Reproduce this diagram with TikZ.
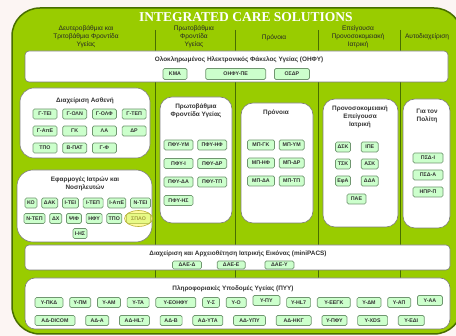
\documentclass[tikz,border=0pt]{standalone}
\usepackage{fontspec}
\setmainfont{Liberation Sans}
\newfontfamily\bannerfont{Liberation Serif}
\usetikzlibrary{positioning}

\definecolor{pagebg}{RGB}{252,245,243}
\definecolor{lime}{RGB}{153,204,0}
\definecolor{limeedge}{RGB}{72,110,0}
\definecolor{appfill}{RGB}{204,255,204}
\definecolor{appedge}{RGB}{112,150,112}
\definecolor{paneledge}{RGB}{125,125,125}

\tikzset{
    x=1pt, y=-1pt, % pixel units, y runs downwards
    panel/.style={draw=paneledge, fill=white, line width=0.6pt, rounded corners=#1}, % white group boxes
    panel/.default=12pt,
    heading/.style={font=\fontsize{6.6}{7.8}\selectfont, align=center, text=black!85}, % column heads
    paneltitle/.style={font=\fontsize{6.4}{7.8}\selectfont\bfseries, align=center, text=black!80},
    app/.style={draw=appedge, fill=appfill, line width=0.7pt, rounded corners=1.5pt,
        font=\fontsize{5.3}{5.5}\selectfont\bfseries, text=black!80, inner sep=0pt,
        minimum height=10pt, minimum width=#1}, % one application
    app/.default=24pt,
    colsep/.style={draw=limeedge, line width=0.7pt},
    hilite/.style={draw=yellow!70!black, fill=yellow!70, fill opacity=0.55, line width=0.6pt},
}

\begin{document}
\begin{tikzpicture}
\useasboundingbox (0,0) rectangle (456,336);
\fill[pagebg] (0,0) rectangle (456,336);
\draw[fill=lime, draw=limeedge, line width=1.5pt, rounded corners=28pt] (12,8) rectangle (462,334);

\node[font=\bannerfont\bfseries\fontsize{13.5}{14}\selectfont, text=white] (banner) at (246,17) {INTEGRATED CARE SOLUTIONS};

% column heads
\node[heading] (h1) at (86,37) {Δευτεροβάθμια και\\Τριτοβάθμια Φροντίδα\\Υγείας};
\node[heading] (h2) at (194,37) {Πρωτοβάθμια\\Φροντίδα\\Υγείας};
\node[heading] (h3) at (274,38) {Πρόνοια};
\node[heading] (h4) at (358,37) {Επείγουσα\\Προνοσοκομειακή\\Ιατρική};
\node[heading] (h5) at (427,37) {Αυτοδιαχείριση};
\foreach \x in {155,235,318,400}
    \draw[colsep] (\x,30) -- (\x,290);

% OHFY
\draw[panel=4pt] (25,51) rectangle (448,82);
\node[paneltitle] (ohfy) at (239,60) {Ολοκληρωμένος Ηλεκτρονικός Φάκελος Υγείας (ΟΗΦΥ)};
\node[app=24pt, minimum height=11pt] (kma) at (175,74) {ΚΜΑ};
\node[app=60pt, minimum height=11pt, right=18pt of kma] (ohfype) {ΟΗΦΥ-ΠΕ};
\node[app=35pt, minimum height=11pt, right=8pt of ohfype] (osdr) {ΟΣΔΡ};

% patient management
\draw[panel=14pt] (20,88) rectangle (150,158);
\node[paneltitle] (asth) at (85,101) {Διαχείριση Ασθενή};
\node[app] (gtei) at (45,114) {Γ-ΤΕΙ};
\node[app, right=5pt of gtei] (goln) {Γ-ΟΛΝ};
\node[app, right=5pt of goln] (golf) {Γ-ΟΛΦ};
\node[app, right=5pt of golf] (gtep) {Γ-ΤΕΠ};
\node[app] (gape) at (45,131) {Γ-ΑπΕ};
\node[app, right=5pt of gape] (gk) {ΓΚ};
\node[app, right=5pt of gk] (la) {ΛΑ};
\node[app, right=5pt of la] (dr) {ΔΡ};
\node[app] (tpo) at (45,148) {ΤΠΟ};
\node[app, right=5pt of tpo] (bpat) {Β-ΠΑΤ};
\node[app, right=5pt of bpat] (gf) {Γ-Φ};

% doctors and nurses
\draw[panel=16pt] (17,170) rectangle (152,242);
\node[paneltitle] (iatr) at (85,184) {Εφαρμογές Ιατρών και\\Νοσηλευτών};
\node[app=12pt] (ko) at (31,203) {ΚΟ};
\node[app=16pt, right=4pt of ko] (dak) {ΔΑΚ};
\node[app=16pt, right=4pt of dak] (itei) {Ι-ΤΕΙ};
\node[app=20pt, right=4pt of itei] (itep) {Ι-ΤΕΠ};
\node[app=18pt, right=4pt of itep] (iape) {Ι-ΑπΕ};
\node[app=20pt, right=4pt of iape] (ntei) {Ν-ΤΕΙ};
\node[app=21pt] (ntep) at (34.5,218.5) {Ν-ΤΕΠ};
\node[app=12pt, right=4pt of ntep] (dx) {ΔΧ};
\node[app=15pt, right=4pt of dx] (psif) {ΨΙΦ};
\node[app=16pt, right=4pt of psif] (hfy) {ΗΦΥ};
\node[app=15pt, right=4pt of hfy] (tpoi) {ΤΠΟ};
\node[app=24pt, right=4pt of tpoi] (spao) {ΣΠΑΟ};
\node[app=14pt] (ihs) at (80,233.5) {Ι-ΗΣ};
\draw[hilite] (spao) ellipse [x radius=14pt, y radius=8pt];

% primary care
\draw[panel] (160,97) rectangle (232,223);
\node[paneltitle] (pfy) at (196,111) {Πρωτοβάθμια\\Φροντίδα Υγείας};
\node[app=29pt] (pfyym) at (178.5,145) {ΠΦΥ-ΥΜ};
\node[app=29pt, right=4pt of pfyym] (pfyhf) {ΠΦΥ-ΗΦ};
\node[app=29pt] (pfyi) at (178.5,163.5) {ΠΦΥ-Ι};
\node[app=29pt, right=4pt of pfyi] (pfydr) {ΠΦΥ-ΔΡ};
\node[app=29pt] (pfyda) at (178.5,182) {ΠΦΥ-ΔΑ};
\node[app=29pt, right=4pt of pfyda] (pfytp) {ΠΦΥ-ΤΠ};
\node[app=29pt] (pfyhs) at (178.5,200.5) {ΠΦΥ-ΗΣ};

% welfare
\draw[panel] (241,103) rectangle (313,223);
\node[paneltitle] (pron) at (276,113) {Πρόνοια};
\node[app=27pt] (mpgk) at (261,145) {ΜΠ-ΓΚ};
\node[app=25pt, right=4pt of mpgk] (mpym) {ΜΠ-ΥΜ};
\node[app=27pt] (mphf) at (261,163) {ΜΠ-ΗΦ};
\node[app=25pt, right=4pt of mphf] (mpdr) {ΜΠ-ΔΡ};
\node[app=27pt] (mpda) at (261,181) {ΜΠ-ΔΑ};
\node[app=25pt, right=4pt of mpda] (mptp) {ΜΠ-ΤΠ};

% emergency care
\draw[panel] (323,99) rectangle (398,227);
\node[paneltitle] (epeig) at (360,117) {Προνοσοκομειακή\\Επείγουσα\\Ιατρική};
\node[app=15pt] (dsk) at (343,147) {ΔΣΚ};
\node[app=17pt, right=10pt of dsk] (ipe) {ΙΠΕ};
\node[app=15pt] (tsk) at (343,164) {ΤΣΚ};
\node[app=17pt, right=10pt of tsk] (ask) {ΑΣΚ};
\node[app=15pt] (efa) at (343,181) {ΕφΑ};
\node[app=17pt, right=10pt of efa] (dda) {ΔΔΑ};
\node[app=19pt] (pae) at (356.5,199) {ΠΑΕ};

% citizen
\draw[panel] (403,99) rectangle (450,228);
\node[paneltitle] (polit) at (427,116) {Για τον\\Πολίτη};
\node[app=30pt] (psdi) at (428,158) {ΠΣΔ-Ι};
\node[app=30pt] (psda) at (428,175) {ΠΣΔ-Α};
\node[app=30pt] (hprp) at (428,192) {ΗΠΡ-Π};

% miniPACS
\draw[panel=4pt] (25,245) rectangle (450,270);
\node[paneltitle] (pacs) at (238,254) {Διαχείριση και Αρχειοθέτηση Ιατρικής Εικόνας (miniPACS)};
\node[app=29pt, minimum height=8pt] (daed) at (187,265) {ΔΑΕ-Δ};
\node[app=28pt, minimum height=8pt, right=15pt of daed] (daee) {ΔΑΕ-Ε};
\node[app=29pt, minimum height=8pt, right=19pt of daee] (daey) {ΔΑΕ-Υ};

% infrastructure
\draw[panel=10pt] (25,278) rectangle (450,329);
\node[paneltitle] (pyy) at (233,289) {Πληροφοριακές Υποδομές Υγείας (ΠΥΥ)};
\node[app=28pt] (ypkd) at (49,302.5) {Υ-ΠΚΔ};
\node[app=21pt, right=6pt of ypkd] (ypm) {Υ-ΠΜ};
\node[app=23pt, right=6pt of ypm] (yam) {Υ-ΑΜ};
\node[app=22pt, right=6pt of yam] (yta) {Υ-ΤΑ};
\node[app=40pt, right=6pt of yta] (yeohfy) {Υ-ΕΟΗΦΥ};
\node[app=17pt, right=6pt of yeohfy] (ys) {Υ-Σ};
\node[app=20pt, right=6pt of ys] (yo) {Υ-Ο};
\node[app=27pt, right=6pt of yo, yshift=2pt] (ypy) {Υ-ΠΥ};
\node[app=24pt, right=6pt of ypy, yshift=-2pt] (yhl) {Υ-HL7};
\node[app=33pt, right=6pt of yhl] (yeegk) {Υ-ΕΕΓΚ};
\node[app=24pt, right=6pt of yeegk] (ydm) {Υ-ΔΜ};
\node[app=23pt, right=6pt of ydm] (yap) {Υ-ΑΠ};
\node[app=25pt, right=6pt of yap, yshift=2pt] (yaa) {Υ-ΑΑ};
\node[app=40pt] (addicom) at (55,320.5) {ΑΔ-DICOM};
\node[app=23pt, right=10pt of addicom] (ada) {ΑΔ-Α};
\node[app=30pt, right=10pt of ada] (adhl) {ΑΔ-HL7};
\node[app=22pt, right=10pt of adhl] (adb) {ΑΔ-Β};
\node[app=30pt, right=10pt of adb] (adyta) {ΑΔ-ΥΤΑ};
\node[app=32pt, right=10pt of adyta] (adypy) {ΑΔ-ΥΠΥ};
\node[app=35pt, right=10pt of adypy] (adhkg) {ΑΔ-ΗΚΓ};
\node[app=25pt, right=10pt of adhkg] (ypfy) {Υ-ΠΦΥ};
\node[app=30pt, right=10pt of ypfy] (yxds) {Υ-XDS};
\node[app=26pt, right=10pt of yxds] (yedi) {Υ-ΕΔΙ};
\end{tikzpicture}
\end{document}
